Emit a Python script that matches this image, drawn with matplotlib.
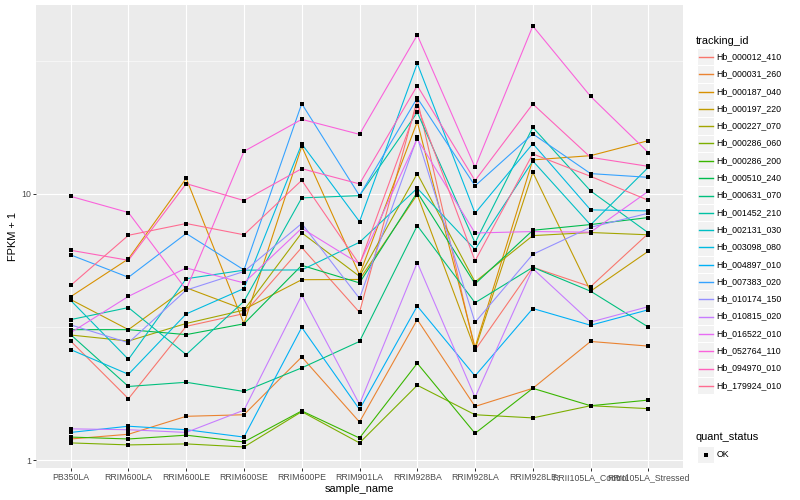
import matplotlib
matplotlib.use('Agg')
import matplotlib.pyplot as plt
from matplotlib.patches import Rectangle
from matplotlib.lines import Line2D
import numpy as np

plt.rcParams['font.family'] = ['Liberation Sans', 'DejaVu Sans']

###########################################
# Data (FPKM + 1)
###########################################

samples = ['PB350LA', 'RRIM600LA', 'RRIM600LE', 'RRIM600SE', 'RRIM600PE',
           'RRIM901LA', 'RRIM928BA', 'RRIM928LA', 'RRIM928LE',
           'RRII105LA_Control', 'RRII105LA_Stressed']

tracking_ids = ['Hb_000012_410', 'Hb_000031_260', 'Hb_000187_040', 'Hb_000197_220',
                'Hb_000227_070', 'Hb_000286_060', 'Hb_000286_200', 'Hb_000510_240',
                'Hb_000631_070', 'Hb_001452_210', 'Hb_002131_030', 'Hb_003098_080',
                'Hb_004897_010', 'Hb_007383_020', 'Hb_010174_150', 'Hb_010815_020',
                'Hb_016522_010', 'Hb_052764_110', 'Hb_094970_010', 'Hb_179924_010']

hb_000012_410 = [2.80, 1.70, 3.18, 3.55, 6.29, 3.59, 22.6, 2.59, 5.30, 4.48, 7.10]
hb_000031_260 = [1.20, 1.25, 1.46, 1.48, 2.44, 1.39, 3.37, 1.59, 1.86, 2.79, 2.68]
hb_000187_040 = [4.11, 5.70, 11.44, 3.25, 15.09, 4.97, 18.68, 2.65, 13.42, 13.92, 15.85]
hb_000197_220 = [4.01, 3.09, 4.44, 3.68, 4.76, 4.77, 9.94, 2.60, 12.05, 4.31, 6.09]
hb_000227_070 = [2.95, 2.80, 3.26, 3.66, 7.14, 4.90, 11.92, 4.67, 6.97, 7.16, 7.02]
hb_000286_060 = [1.16, 1.14, 1.15, 1.12, 1.52, 1.16, 1.91, 1.48, 1.44, 1.60, 1.56]
hb_000286_200 = [1.22, 1.20, 1.24, 1.17, 1.53, 1.21, 2.31, 1.26, 1.86, 1.60, 1.68]
hb_000510_240 = [3.09, 3.09, 2.96, 3.25, 5.39, 4.63, 10.14, 4.59, 7.30, 7.67, 8.15]
hb_000631_070 = [2.96, 1.89, 1.96, 1.81, 2.22, 2.79, 7.60, 3.90, 5.30, 4.31, 3.16]
hb_001452_210 = [3.37, 3.74, 2.49, 3.95, 9.66, 9.85, 20.24, 6.55, 17.78, 10.26, 7.14]
hb_002131_030 = [3.98, 2.39, 4.80, 5.17, 5.18, 6.58, 10.50, 6.18, 13.30, 7.65, 12.58]
hb_003098_080 = [2.60, 2.10, 3.54, 4.41, 15.41, 7.87, 30.92, 8.46, 15.45, 8.71, 8.63]
hb_004897_010 = [1.27, 1.34, 1.30, 1.22, 3.15, 1.55, 3.79, 2.07, 3.71, 3.21, 3.67]
hb_007383_020 = [5.90, 4.86, 7.10, 5.18, 21.83, 9.85, 22.93, 10.72, 16.80, 11.92, 11.54]
hb_010174_150 = [3.22, 2.76, 4.35, 5.11, 7.74, 4.05, 16.31, 3.29, 5.93, 7.49, 8.46]
hb_010815_020 = [1.31, 1.30, 1.27, 1.54, 4.16, 1.62, 5.52, 1.72, 5.24, 3.30, 3.77]
hb_016522_010 = [3.01, 4.12, 5.27, 4.63, 7.43, 5.46, 16.09, 7.13, 7.22, 7.18, 10.23]
hb_052764_110 = [9.79, 8.51, 4.37, 14.45, 19.06, 16.74, 39.52, 12.58, 42.72, 23.25, 14.29]
hb_094970_010 = [6.14, 5.63, 10.93, 9.44, 12.44, 10.90, 25.50, 11.22, 21.77, 13.72, 12.69]
hb_179924_010 = [4.53, 6.99, 7.74, 7.02, 11.25, 5.43, 21.45, 5.60, 14.13, 11.64, 9.46]

series = [hb_000012_410, hb_000031_260, hb_000187_040, hb_000197_220, hb_000227_070,
          hb_000286_060, hb_000286_200, hb_000510_240, hb_000631_070, hb_001452_210,
          hb_002131_030, hb_003098_080, hb_004897_010, hb_007383_020, hb_010174_150,
          hb_010815_020, hb_016522_010, hb_052764_110, hb_094970_010, hb_179924_010]

# ggplot2 default hue palette for 20 levels
colors = ['#F8766D', '#EA8331', '#D89000', '#C09B00', '#A3A500', '#7CAE00', '#39B600',
          '#00BB4E', '#00BF7D', '#00C1A3', '#00BFC4', '#00BAE0', '#00B0F6', '#35A2FF',
          '#9590FF', '#C77CFF', '#E76BF3', '#FA62DB', '#FF62BC', '#FF6C91']

###########################################
# Figure
###########################################

W, H = 800, 500
fig = plt.figure(figsize=(W / 72, H / 72), dpi=72)
fig.patch.set_facecolor('white')

# panel in pixels: left 36, right 683, top 5, bottom 468
ax = fig.add_axes([36 / W, 1 - 468 / H, (683 - 36) / W, (468 - 5) / H])
ax.set_facecolor('#EBEBEB')
for s in ax.spines.values():
    s.set_visible(False)

x = np.arange(len(samples))
for vals, col in zip(series, colors):
    ax.plot(x, vals, color=col, linewidth=1.1, zorder=3, solid_capstyle='butt')
for vals in series:
    ax.plot(x, vals, linestyle='none', marker='s', markersize=4.2, markeredgewidth=0,
            markerfacecolor='black', zorder=4)

ax.set_yscale('log')
# ggplot-like 5% expansion in log space
all_vals = np.concatenate([np.array(v) for v in series])
lo, hi = np.log10(all_vals.min()), np.log10(all_vals.max())
pad = (hi - lo) * 0.05
ax.set_ylim(10 ** (lo - pad), 10 ** (hi + pad))
ax.set_xlim(-0.6, len(samples) - 0.4)

ax.set_yticks([1, 10])
ax.set_yticklabels(['1', '10'])
ax.set_yticks([10 ** 0.5, 10 ** 1.5], minor=True)
ax.yaxis.set_minor_formatter(plt.NullFormatter())
ax.set_xticks(x)
ax.set_xticklabels(samples)

ax.grid(True, which='major', color='white', linewidth=1.1, zorder=0)
ax.grid(True, which='minor', axis='y', color='white', linewidth=0.55, zorder=0)
ax.set_axisbelow(True)

ax.tick_params(axis='both', which='major', length=2.75, width=1.0, color='#333333',
               labelsize=8.8, labelcolor='#4D4D4D', pad=2.2)
ax.tick_params(axis='y', which='minor', length=0)

ax.set_xlabel('sample_name', fontsize=11, color='black', labelpad=2)
ax.set_ylabel('FPKM + 1', fontsize=11, color='black', labelpad=3)

###########################################
# Legends (drawn by hand, ggplot style)
###########################################

def fx(px):
    return px / W

def fy(py):
    return 1 - py / H

fig.text(fx(696), fy(40.5), 'tracking_id', fontsize=11, va='center', ha='left')
key = 17.3
y0 = 48.0
for i, (name, col) in enumerate(zip(tracking_ids, colors)):
    top = y0 + i * key
    fig.add_artist(Rectangle((fx(697), fy(top + key)), key / W, key / H,
                             transform=fig.transFigure, facecolor='#F2F2F2',
                             edgecolor='white', linewidth=1.0, zorder=1))
    cy = np.floor(top + key / 2) + 0.5
    fig.add_artist(Line2D([fx(698.5), fx(712.5)], [fy(cy), fy(cy)],
                          transform=fig.transFigure, color=col, linewidth=1.4,
                          zorder=5))
    fig.text(fx(716.5), fy(top + key / 2), name, fontsize=8.8, va='center', ha='left')

fig.text(fx(696), fy(437), 'quant_status', fontsize=11, va='center', ha='left')
top = 446.0
fig.add_artist(Rectangle((fx(697), fy(top + key)), key / W, key / H,
                         transform=fig.transFigure, facecolor='#F2F2F2',
                         edgecolor='white', linewidth=1.0, zorder=1))
fig.add_artist(Line2D([fx(697 + key / 2)], [fy(top + key / 2)], transform=fig.transFigure,
                      linestyle='none', marker='s', markersize=4.2, markeredgewidth=0,
                      color='black', zorder=5))
fig.text(fx(716.5), fy(top + key / 2), 'OK', fontsize=8.8, va='center', ha='left')

fig.savefig('out.png', dpi=72, facecolor='white')
plt.close(fig)
